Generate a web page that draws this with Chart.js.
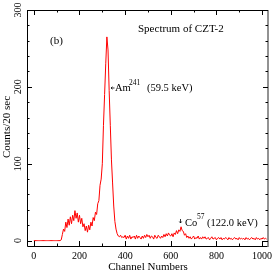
<!DOCTYPE html>
<html>
<head>
<meta charset="utf-8">
<script src="https://cdn.jsdelivr.net/npm/chart.js@4/dist/chart.umd.min.js"></script>
<style>
  html, body { margin: 0; padding: 0; background: #fff; }
  canvas { display: block; }
</style>
</head>
<body>
<canvas id="spectrum" width="273" height="273"></canvas>
<script>
// counts per 20 sec, read every 5 channels (0 .. 1020)
const channelStep = 5;
const counts = [
  // 0 - 115
  0, 0, 0, 0, 0, 0, 0, 0, 0, 0, 0, 0, 0, 0, 0, 0, 0, 0, 0, 0, 0, 0, 0, 0,
  // 120 - 295
  1, 8, 15, 12, 24, 17, 28, 20, 31, 22, 33, 26, 39, 29, 36, 24, 33, 22, 29, 18,
  22, 13, 19, 11, 20, 14, 24, 19, 30, 26, 37, 34, 48, 52, 72, 80,
  // 300 - 390
  100, 150, 190, 230, 265, 248, 195, 150, 105, 75, 45, 25, 15, 9, 6, 5, 7, 4, 5,
  // 395 - 595
  4, 7, 2, 6, 3, 7, 2, 5, 4, 6, 2, 7, 3, 6, 4, 2, 6, 3, 7, 4,
  8, 5, 7, 3, 6, 5, 2, 7, 4, 3, 7, 5, 3, 6, 4, 8, 5, 9, 6, 10, 7,
  // 600 - 680
  6, 9, 5, 10, 8, 13, 9, 14, 12, 18, 13, 12, 7, 9, 4, 6, 3,
  // 685 - 1020
  5, 2, 4, 6, 2, 4, 3, 6, 2, 4, 2, 5, 3, 5, 2, 3, 4, 1, 3, 5,
  2, 3, 4, 1, 3, 4, 2, 4, 1, 3, 2, 4, 3, 1, 4, 2, 3, 1, 3, 4,
  2, 3, 1, 4, 2, 3, 2, 3, 1, 4, 2, 3, 1, 3, 4, 2, 3, 1, 4, 2,
  3, 1, 3, 2, 4, 2, 3, 2
];
const channels = counts.map((_, i) => i * channelStep);

const xTicks = [0, 200, 400, 600, 800, 1000];
const xMinorTicks = [100, 300, 500, 700, 900];
const yTicks = [0, 100, 200, 300];
const yMinorTicks = [20, 40, 60, 80, 120, 140, 160, 180, 220, 240, 260, 280];

const serif = '"Liberation Serif", "DejaVu Serif", serif';

const framePlugin = {
  id: 'frame',
  afterDraw(chart) {
    const ctx = chart.ctx;
    const a = chart.chartArea;
    const xs = chart.scales.x, ys = chart.scales.y;
    ctx.save();
    // frame
    ctx.strokeStyle = '#000';
    ctx.lineWidth = 1;
    ctx.beginPath();
    ctx.moveTo(a.right, a.top + 0.5);
    ctx.lineTo(a.left + 0.5, a.top + 0.5);
    ctx.lineTo(a.left + 0.5, a.bottom + 0.5);
    ctx.lineTo(a.right, a.bottom + 0.5);
    ctx.stroke();
    ctx.strokeStyle = '#777';
    ctx.lineWidth = 1.6;
    ctx.beginPath();
    ctx.moveTo(a.right, a.top);
    ctx.lineTo(a.right, a.bottom + 1);
    ctx.stroke();

    // ticks, inward on all sides
    ctx.strokeStyle = '#000';
    ctx.lineWidth = 1;
    ctx.beginPath();
    const xt = (v, len) => {
      const p = Math.round(xs.getPixelForValue(v)) + 0.5;
      ctx.moveTo(p, a.bottom); ctx.lineTo(p, a.bottom - len);
      ctx.moveTo(p, a.top); ctx.lineTo(p, a.top + len);
    };
    const yt = (v, len) => {
      const p = Math.round(ys.getPixelForValue(v)) + 0.5;
      ctx.moveTo(a.left, p); ctx.lineTo(a.left + len, p);
      ctx.moveTo(a.right, p); ctx.lineTo(a.right - len, p);
    };
    xTicks.forEach(v => xt(v, 5));
    xMinorTicks.forEach(v => xt(v, 2.5));
    yTicks.forEach(v => yt(v, 5));
    yMinorTicks.forEach(v => yt(v, 2.5));
    ctx.stroke();

    // tick labels
    ctx.fillStyle = '#000';
    ctx.font = '10px ' + serif;
    ctx.textAlign = 'center';
    ctx.textBaseline = 'middle';
    xTicks.forEach(v => ctx.fillText(String(v), xs.getPixelForValue(v), 256));
    yTicks.forEach(v => {
      ctx.save();
      ctx.translate(18, ys.getPixelForValue(v));
      ctx.rotate(-Math.PI / 2);
      ctx.fillText(String(v), 0, 0);
      ctx.restore();
    });

    // axis titles
    ctx.font = '11px ' + serif;
    ctx.fillText('Channel Numbers', 148, 267);
    ctx.save();
    ctx.translate(7, 127);
    ctx.rotate(-Math.PI / 2);
    ctx.fillText('Counts/20 sec', 0, 0);
    ctx.restore();

    // annotations
    ctx.textAlign = 'left';
    ctx.fillText('Spectrum of CZT-2', 138, 29);
    ctx.fillText('(b)', 50, 41);

    ctx.font = '10.5px ' + serif;
    ctx.fillText('Am', 115, 88);
    ctx.fillText('(59.5 keV)', 147, 88);
    ctx.fillText('Co', 185, 223);
    ctx.fillText('(122.0 keV)', 207, 223);
    ctx.font = '7.5px ' + serif;
    ctx.fillText('241', 129, 83);
    ctx.fillText('57', 197, 217);

    // small arrows
    ctx.lineWidth = 0.8;
    ctx.beginPath();
    ctx.moveTo(114.5, 88); ctx.lineTo(111, 88);
    ctx.moveTo(112.5, 86.8); ctx.lineTo(111, 88); ctx.lineTo(112.5, 89.2);
    ctx.moveTo(180.5, 219); ctx.lineTo(180.5, 223);
    ctx.moveTo(179.3, 221.5); ctx.lineTo(180.5, 223); ctx.lineTo(181.7, 221.5);
    ctx.stroke();
    ctx.restore();
  }
};

new Chart(document.getElementById('spectrum'), {
  type: 'line',
  data: {
    datasets: [{
      data: channels.map((c, i) => ({ x: c, y: counts[i] })),
      borderColor: 'rgb(255, 0, 0)',
      borderWidth: 1,
      pointRadius: 0,
      tension: 0,
      fill: false
    }]
  },
  options: {
    responsive: false,
    animation: false,
    layout: { padding: { left: 27, top: 10, right: 5, bottom: 27 } },
    plugins: { legend: { display: false }, tooltip: { enabled: false } },
    scales: {
      x: { type: 'linear', min: -30, max: 1026, display: false },
      y: { type: 'linear', min: -7, max: 300, display: false }
    }
  },
  plugins: [framePlugin]
});
</script>
</body>
</html>
